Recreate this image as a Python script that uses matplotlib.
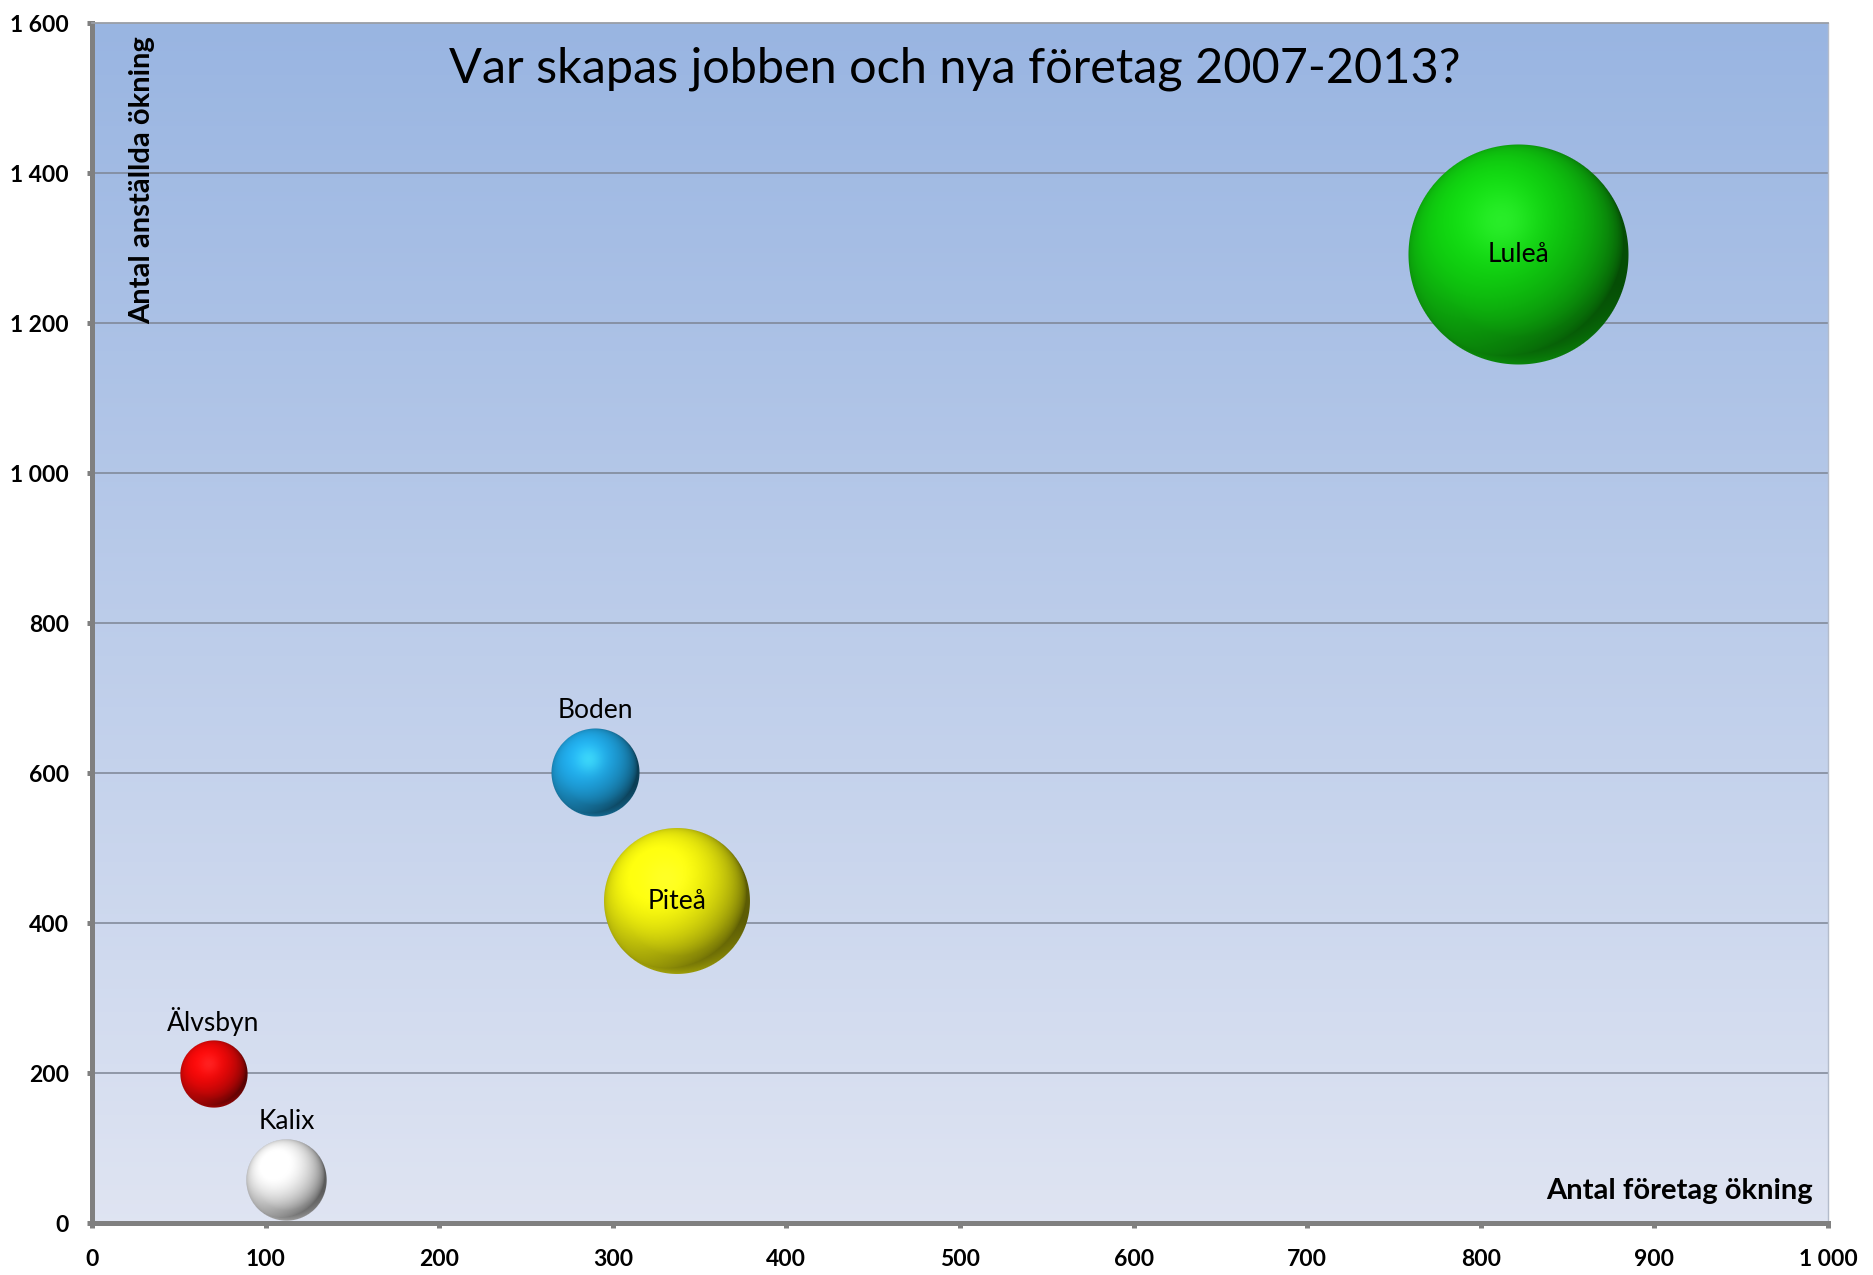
import numpy as np
import matplotlib
matplotlib.use("Agg")
import matplotlib.pyplot as plt
from matplotlib.offsetbox import OffsetImage, AnnotationBbox
from matplotlib.ticker import FuncFormatter, MultipleLocator

# data
kommuner = ["Luleå", "Piteå", "Boden", "Kalix", "Älvsbyn"]
foretag_okning = [822, 337, 290, 112, 70]
anstallda_okning = [1291, 429, 600, 57, 198]
bubbla_storlek = [75, 33, 12, 10, 7]
farger = [(0.06, 0.80, 0.06), (0.95, 0.95, 0.05), (0.12, 0.64, 0.88),
          (0.95, 0.95, 0.95), (0.92, 0.03, 0.03)]
etikett_lage = ["center", "center", "above", "above", "above"]

titel = "Var skapas jobben och nya företag 2007-2013?"
x_titel = "Antal företag ökning"
y_titel = "Antal anställda ökning"

FONT = ["Lato", "DejaVu Sans"]
plt.rcParams["font.family"] = FONT

R_MAX = 110  # pixels for the largest bubble


def sphere(rgb, R):
    n = int(2 * R + 3)
    c = (n - 1) / 2
    yy, xx = np.mgrid[0:n, 0:n]
    u = (xx - c) / R
    v = (c - yy) / R
    d = np.sqrt(u ** 2 + v ** 2)
    z = np.sqrt(np.clip(1 - d ** 2, 0, 1))
    L = np.array([-0.3, 0.4, 0.87])
    L = L / np.linalg.norm(L)
    diff = np.clip(u * L[0] + v * L[1] + z * L[2], 0, 1)
    base = np.array(rgb)
    shade = 0.38 + 0.72 * diff ** 0.8
    col = base[None, None, :] * shade[..., None]
    hl = np.exp(-((u + 0.15) ** 2 + (v - 0.3) ** 2) / 0.09)
    col = col + (np.clip(base * 1.25 + 0.2, 0, 1) - col) * 0.45 * hl[..., None]
    rim = np.clip((d - 0.75) / 0.25, 0, 1) * np.clip(-v - u * 0.3, 0, 1)
    col = col + (base - col) * 0.45 * rim[..., None]
    alpha = np.clip(R * (1 - d) + 0.5, 0, 1)
    return np.dstack([np.clip(col, 0, 1), alpha])


fig = plt.figure(figsize=(18.74, 12.75), dpi=100)
ax = fig.add_axes([92 / 1874, 1 - 1223 / 1275, 1736 / 1874, 1200 / 1275])
ax.set_xlim(0, 1000)
ax.set_ylim(0, 1600)

# background gradient
top = np.array([0.60, 0.71, 0.885])
bot = np.array([0.875, 0.895, 0.95])
t = np.linspace(0, 1, 256)[:, None, None]
grad = top * (1 - t) + bot * t
ax.imshow(grad, extent=[0, 1000, 0, 1600], aspect="auto", zorder=0)

ax.yaxis.set_major_locator(MultipleLocator(200))
ax.xaxis.set_major_locator(MultipleLocator(100))
fmt = FuncFormatter(lambda v, p: f"{v:,.0f}".replace(",", " "))
ax.xaxis.set_major_formatter(fmt)
ax.yaxis.set_major_formatter(fmt)
for yv in ax.get_yticks():
    if 0 < yv < 1600:
        ax.axhline(yv, color="#7d8594", lw=1.1, zorder=1)

for s in ["left", "bottom"]:
    ax.spines[s].set_color("#808080")
    ax.spines[s].set_linewidth(3.6)
ax.spines["top"].set_color("#9a9ea6")
ax.spines["top"].set_linewidth(1.3)
ax.spines["right"].set_color("#b4bccb")
ax.spines["right"].set_linewidth(1.0)
ax.tick_params(axis="both", direction="out", length=3.5, width=3.6, color="#808080",
               labelsize=16.5)
ax.tick_params(axis="x", pad=15)
ax.tick_params(axis="y", pad=13)
for lab in ax.get_xticklabels() + ax.get_yticklabels():
    lab.set_fontweight("bold")

for namn, x, y, s, c, lage in zip(kommuner, foretag_okning, anstallda_okning,
                                  bubbla_storlek, farger, etikett_lage):
    R = R_MAX * np.sqrt(s / max(bubbla_storlek))
    img = OffsetImage(sphere(c, R), zoom=1, dpi_cor=False)
    ab = AnnotationBbox(img, (x, y), frameon=False, pad=0, zorder=3)
    ax.add_artist(ab)
    if lage == "center":
        ax.annotate(namn, (x, y), ha="center", va="center", fontsize=19, zorder=4)
    else:
        ax.annotate(namn, (x, y), xytext=(0, (R + 19) * 0.72), textcoords="offset points",
                    ha="center", va="center", fontsize=19, zorder=4)

ax.text(0.497, 0.9617, titel, transform=ax.transAxes, ha="center", va="center",
        fontsize=35, zorder=4)
ax.text(0.029, 0.989, y_titel, transform=ax.transAxes, ha="center", va="top",
        rotation=90, fontsize=21, fontweight="bold", zorder=4)
ax.text(0.9914, 0.027, x_titel, transform=ax.transAxes, ha="right", va="center",
        fontsize=21, fontweight="bold", zorder=4)

fig.savefig("out.png", dpi=100)
